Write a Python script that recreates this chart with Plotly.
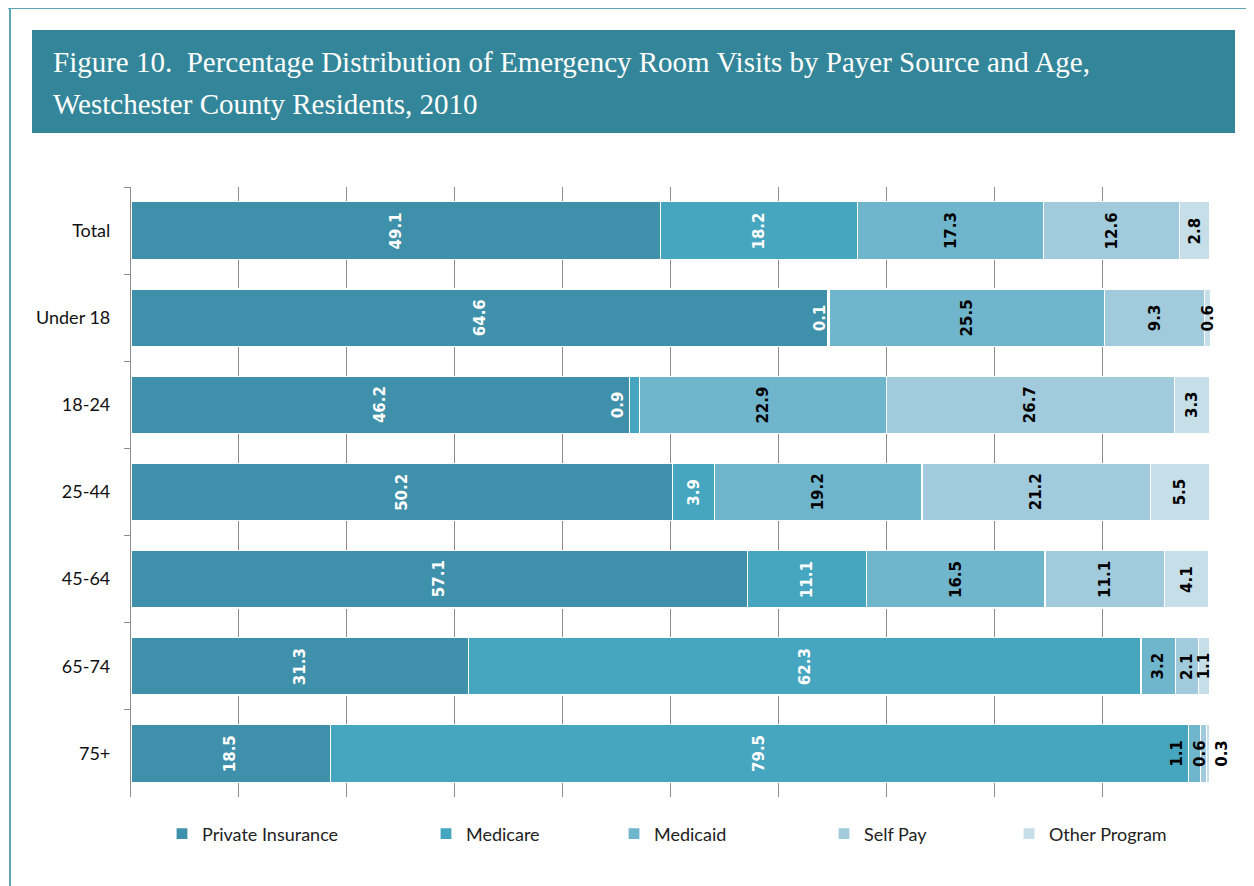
import plotly.graph_objects as go

categories = ["Total", "Under 18", "18-24", "25-44", "45-64", "65-74", "75+"]
series_names = ["Private Insurance", "Medicare", "Medicaid", "Self Pay", "Other Program"]
private_insurance = [49.1, 64.6, 46.2, 50.2, 57.1, 31.3, 18.5]
medicare = [18.2, 0.1, 0.9, 3.9, 11.1, 62.3, 79.5]
medicaid = [17.3, 25.5, 22.9, 19.2, 16.5, 3.2, 1.1]
self_pay = [12.6, 9.3, 26.7, 21.2, 11.1, 2.1, 0.6]
other_program = [2.8, 0.6, 3.3, 5.5, 4.1, 1.1, 0.3]

series = [private_insurance, medicare, medicaid, self_pay, other_program]
colors = ["#3f90aa", "#46a5bf", "#6fb6cd", "#a1cbdc", "#c5dee8"]
text_colors = ["white", "white", "black", "black", "black"]

# page is rendered with an 8px body margin
OFF = 8
PAGE_W, PAGE_H = 1254, 886
W, H = PAGE_W - OFF, PAGE_H - OFF
PL, PR, PT, PB = 131, 1210, 187, 797  # plot area in page pixels
pw, ph = PR - PL, PB - PT


def px_x(p):
    return (p - PL) / pw


def px_y(p):
    return (PB - p) / ph


# label nudges (pixels) for crowded small segments
label_shift = {("Under 18", 1): -9, ("18-24", 1): -16,
               ("75+", 2): -17, ("75+", 3): -3, ("75+", 4): 14}

fig = go.Figure()
legend_x = [162, 426, 614, 824, 1009]
for si, (name, vals) in enumerate(zip(series_names, series)):
    lg = "legend" if si == 0 else f"legend{si + 1}"
    fig.add_trace(go.Bar(
        y=categories, x=vals, name=name, orientation="h",
        marker=dict(color=colors[si], line=dict(color="white", width=1.2)),
        hoverinfo="skip", width=0.66, legend=lg,
    ))

for ci, cat in enumerate(categories):
    start = 0.0
    for si in range(len(series)):
        v = series[si][ci]
        center = start + v / 2
        start += v
        fig.add_annotation(
            x=center, y=cat, xref="x", yref="y", text=f"{v:.1f}", textangle=-90,
            showarrow=False, xshift=label_shift.get((cat, si), 0),
            font=dict(family="DejaVu Sans, sans-serif", size=15,
                      color=text_colors[si], weight="bold"))

shapes = [
    dict(type="line", xref="paper", yref="paper", x0=px_x(4), x1=px_x(1254), y0=px_y(8), y1=px_y(8),
         line=dict(color="#5fa3b7", width=2)),
    dict(type="line", xref="paper", yref="paper", x0=px_x(10), x1=px_x(10), y0=px_y(8), y1=px_y(886),
         line=dict(color="#5fa3b7", width=2)),
    dict(type="rect", xref="paper", yref="paper", x0=px_x(32), x1=px_x(1235), y0=px_y(30), y1=px_y(133),
         fillcolor="#338699", line=dict(width=0), layer="below"),
]

fig.add_annotation(xref="paper", yref="paper", x=px_x(51), y=px_y(62), xanchor="left", yanchor="middle",
                   text="Figure 10.  Percentage Distribution of Emergency Room Visits by Payer Source and Age,",
                   showarrow=False, font=dict(family="Liberation Serif, serif", size=29, color="white"))
fig.add_annotation(xref="paper", yref="paper", x=px_x(51), y=px_y(104), xanchor="left", yanchor="middle",
                   text="Westchester County Residents, 2010",
                   showarrow=False, font=dict(family="Liberation Serif, serif", size=29, color="white"))

legend_common = dict(orientation="h", yanchor="middle", xanchor="left", bgcolor="rgba(0,0,0,0)",
                     font=dict(family="Lato, Open Sans, sans-serif", size=18, color="#222"),
                     itemclick=False, itemdoubleclick=False)
legend_layout = {}
for i, lx in enumerate(legend_x):
    key = "legend" if i == 0 else f"legend{i + 1}"
    legend_layout[key] = dict(x=px_x(lx), y=px_y(834), **legend_common)

fig.update_layout(
    width=W, height=H,
    margin=dict(l=PL - OFF, r=PAGE_W - PR, t=PT - OFF, b=PAGE_H - PB),
    paper_bgcolor="white", plot_bgcolor="white",
    barmode="stack", bargap=0.34,
    shapes=shapes,
    showlegend=True,
    xaxis=dict(range=[0, 100], dtick=10, showgrid=True, gridcolor="#8c8c8c", gridwidth=1,
               showticklabels=False, zeroline=False, showline=False, ticks=""),
    yaxis=dict(categoryorder="array", categoryarray=categories, autorange="reversed",
               showline=True, linecolor="#8c8c8c", linewidth=1.2,
               ticks="outside", tickson="boundaries", ticklen=6, tickcolor="#8c8c8c",
               tickfont=dict(family="Lato, Open Sans, sans-serif", size=18, color="#111"),
               ticklabelstandoff=16, showgrid=False),
    **legend_layout,
)

fig.write_html("out.html")
